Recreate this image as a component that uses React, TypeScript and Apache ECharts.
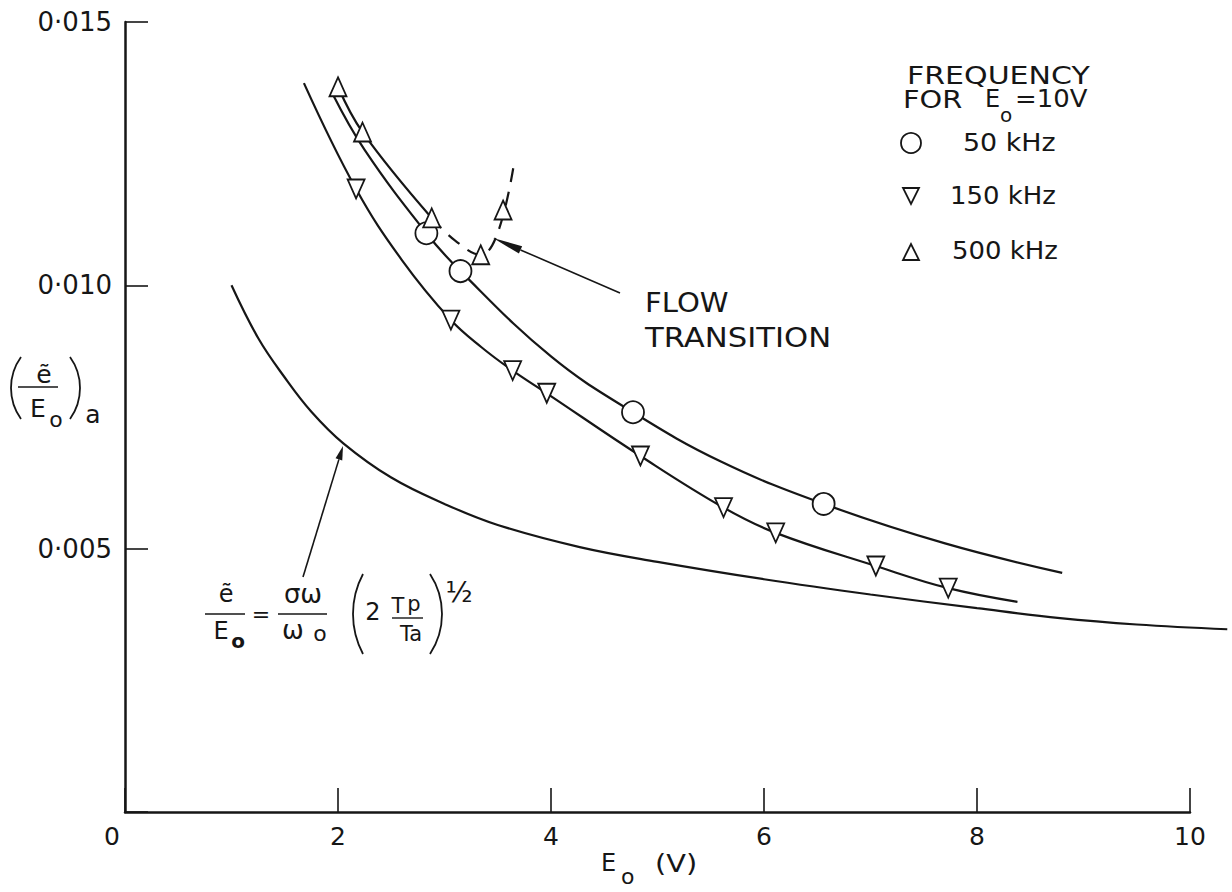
import React, { useEffect, useRef } from 'react';
import * as echarts from 'echarts';

// ---- data ----
const THEORY_CURVE: number[][] = [
  [1.0, 0.0100], [1.25, 0.0090], [1.5, 0.00825], [1.75, 0.0076], [2.05, 0.0070],
  [2.5, 0.00635], [3.0, 0.00585], [3.5, 0.00545], [4.27, 0.00503], [5.0, 0.00475],
  [6.0, 0.00442], [7.0, 0.00413], [8.0, 0.00387], [8.78, 0.00368], [9.5, 0.00356], [10.35, 0.00347],
];
const CURVE_50K: number[][] = [
  [1.94, 0.01367], [2.25, 0.01257], [2.83, 0.01099], [3.15, 0.01027], [4.0, 0.00865],
  [4.77, 0.00759], [5.6, 0.00665], [6.56, 0.00585], [7.7, 0.0051], [8.8, 0.00454],
];
const CURVE_150K: number[][] = [
  [1.68, 0.01384], [2.17, 0.01183], [2.6, 0.01048], [3.06, 0.00934], [3.35, 0.00882], [3.64, 0.00838], [3.96, 0.00795],
  [4.84, 0.00676], [5.62, 0.00578], [6.11, 0.0053], [7.05, 0.00467], [7.73, 0.00425], [8.38, 0.00399],
];
const CURVE_500K_SOLID: number[][] = [
  [2.0, 0.01377], [2.23, 0.01291], [2.88, 0.01128],
];
const CURVE_500K_DASHED: number[][] = [
  [2.88, 0.01128], [3.1, 0.01085], [3.34, 0.01058], [3.5, 0.0110], [3.65, 0.01228],
];
const POINTS_50K: number[][] = [
  [2.83, 0.01099], [3.15, 0.01027], [4.77, 0.00759], [6.56, 0.00585],
];
const POINTS_150K: number[][] = [
  [2.17, 0.01183], [3.06, 0.00934], [3.64, 0.00838], [3.96, 0.00795], [4.84, 0.00676],
  [5.62, 0.00578], [6.11, 0.0053], [7.05, 0.00467], [7.73, 0.00425],
];
const POINTS_500K: number[][] = [
  [2.0, 0.01377], [2.23, 0.01291], [2.88, 0.01128], [3.34, 0.01058], [3.55, 0.01143],
];
const LEGEND_LABELS = ['50 kHz', '150 kHz', '500 kHz'];

const FONT = "'DejaVu Sans', 'Noto Sans', sans-serif";
const INK = '#161616';

// layout: the theory curve runs past the end of the x axis, so it is drawn in a second,
// hidden grid with the same scale (106.5 px per volt) that extends to the page edge
const GRID_LEFT = 125, GRID_RIGHT = 42, GRID_TOP = 22, GRID_BOTTOM = 80, PAGE_W = 1232, EXT_RIGHT = 4;
const X_MAX = 10;
const X_MAX_EXT = X_MAX * (PAGE_W - EXT_RIGHT - GRID_LEFT) / (PAGE_W - GRID_RIGHT - GRID_LEFT);

function txt(text: string, x: number, y: number, size: number, align: string = 'left', extra: any = {}) {
  return {
    type: 'text', x, y, silent: true,
    style: { text, fill: INK, font: `${extra.weight || 'normal'} ${size}px ${FONT}`, align, verticalAlign: 'middle' },
    scaleX: extra.scaleX || 1,
  };
}
function seg(x1: number, y1: number, x2: number, y2: number, w = 1.6) {
  return { type: 'line', silent: true, shape: { x1, y1, x2, y2 }, style: { stroke: INK, lineWidth: w } };
}
// a thin bracket drawn as an arc: x0 = outermost x, y0 = centre y, h = height, s = sagitta
function paren(x0: number, y0: number, h: number, s: number, left: boolean) {
  const c = h / 2;
  const r = (c * c + s * s) / (2 * s);
  const a = Math.asin(c / r);
  const cx = left ? x0 + r : x0 - r;
  return {
    type: 'arc', silent: true,
    shape: { cx, cy: y0, r, startAngle: left ? Math.PI - a : -a, endAngle: left ? Math.PI + a : a, clockwise: true },
    style: { stroke: INK, lineWidth: 1.8, fill: 'none' },
  };
}
function arrow(x1: number, y1: number, x2: number, y2: number, len: number, half: number) {
  const dx = x2 - x1, dy = y2 - y1;
  const d = Math.sqrt(dx * dx + dy * dy);
  const ux = dx / d, uy = dy / d;
  const bx = x2 - ux * len, by = y2 - uy * len;
  const px = -uy * half, py = ux * half;
  return [
    seg(x1, y1, bx, by, 1.6),
    { type: 'polygon', silent: true, shape: { points: [[x2, y2], [bx + px, by + py], [bx - px, by - py]] }, style: { fill: INK } },
  ];
}

export default function App() {
  const ref = useRef<HTMLDivElement>(null);
  useEffect(() => {
    if (!ref.current) return;
    const chart = echarts.init(ref.current, null, { renderer: 'svg' });
    const lineBase = {
      type: 'line', smooth: 0.4, showSymbol: false, symbol: 'none', silent: true,
      lineStyle: { color: INK, width: 2.2 }, z: 2,
    };
    const markerStyle = { color: '#ffffff', borderColor: INK, borderWidth: 1.8, opacity: 1 };
    const graphics: any[] = [
      // y-axis title ( e~ / Eo )a
      paren(11, 388, 62, 10, true),
      txt('ẽ', 44, 374, 25, 'center'),
      seg(18, 387, 58, 387, 1.6),
      txt('E', 38, 408, 25, 'center'),
      txt('o', 56, 419, 22, 'center'),
      paren(80, 388, 62, 10, false),
      txt('a', 93, 414, 25, 'center'),
      // x-axis title
      txt('E', 601, 863, 24),
      txt('o', 621, 876, 22),
      txt('(V)', 655, 863, 24, 'left', { scaleX: 1.2 }),
      // legend
      txt('FREQUENCY', 907, 76, 24, 'left', { scaleX: 1.25 }),
      txt('FOR', 903, 99, 24, 'left', { scaleX: 1.2 }),
      txt('E', 985, 99, 24),
      txt('o', 1000, 115, 20),
      txt('=10V', 1015, 99, 24, 'left', { scaleX: 1.08 }),
      { type: 'circle', silent: true, shape: { cx: 911, cy: 143, r: 10 }, style: { fill: 'none', stroke: INK, lineWidth: 1.8 } },
      txt(LEGEND_LABELS[0], 963, 143, 24, 'left', { scaleX: 1.12 }),
      { type: 'polygon', silent: true, shape: { points: [[903, 188], [919, 188], [911, 204]] }, style: { fill: 'none', stroke: INK, lineWidth: 1.8 } },
      txt(LEGEND_LABELS[1], 950, 196, 24, 'left', { scaleX: 1.08 }),
      { type: 'polygon', silent: true, shape: { points: [[903, 260], [919, 260], [911, 244]] }, style: { fill: 'none', stroke: INK, lineWidth: 1.8 } },
      txt(LEGEND_LABELS[2], 952, 251, 24, 'left', { scaleX: 1.08 }),
      // flow transition annotation
      txt('FLOW', 645, 303, 26, 'left', { scaleX: 1.12 }),
      txt('TRANSITION', 645, 338, 26, 'left', { scaleX: 1.18 }),
      ...arrow(620, 293, 493, 238, 30, 4),
      // formula
      txt('ẽ', 226, 594, 24, 'center'),
      seg(205, 614, 245, 614, 1.6),
      txt('E', 221, 631, 24, 'center'),
      txt('o', 238, 641, 20, 'center', { weight: 'bold' }),
      txt('=', 261, 614, 22, 'center'),
      txt('σω', 303, 594, 26, 'center'),
      seg(278, 614, 327, 614, 1.6),
      txt('ω', 293, 630, 26, 'center'),
      txt('o', 320, 633, 22, 'center'),
      paren(353, 614, 80, 10, true),
      txt('2', 373, 612, 24, 'center'),
      txt('T', 398, 606, 21, 'center'),
      txt('p', 414, 604, 21, 'center'),
      seg(392, 618, 423, 618, 1.4),
      txt('Ta', 411, 634, 21, 'center'),
      paren(442, 614, 80, 12, false),
      txt('½', 459, 592, 28, 'center'),
      ...arrow(303, 577, 343, 446, 14, 3.5),
    ];
    chart.setOption({
      animation: false,
      backgroundColor: '#ffffff',
      grid: [
        { left: GRID_LEFT, right: GRID_RIGHT, top: GRID_TOP, bottom: GRID_BOTTOM },
        { left: GRID_LEFT, right: EXT_RIGHT, top: GRID_TOP, bottom: GRID_BOTTOM },
      ],
      xAxis: [
        {
          type: 'value', min: 0, max: X_MAX, interval: 2, gridIndex: 0,
          axisLine: { show: true, onZero: false, lineStyle: { color: INK, width: 2.5 } },
          axisTick: { show: true, inside: true, length: 24, lineStyle: { color: INK, width: 1.6 } },
          splitLine: { show: false },
          axisLabel: {
            margin: 12, color: INK, fontSize: 25, fontFamily: FONT,
            formatter: (v: number) => (v === 0 ? '{z|0}' : String(v)),
            rich: { z: { fontSize: 25, fontFamily: FONT, color: INK, padding: [0, 26, 0, 0] } },
          },
        },
        { type: 'value', min: 0, max: X_MAX_EXT, gridIndex: 1, show: false, splitLine: { show: false } },
      ],
      yAxis: [
        {
          type: 'value', min: 0, max: 0.015, interval: 0.005, gridIndex: 0,
          axisLine: { show: true, onZero: false, lineStyle: { color: INK, width: 2.5 } },
          axisTick: { show: true, inside: true, length: 23, lineStyle: { color: INK, width: 1.6 } },
          splitLine: { show: false },
          axisLabel: {
            margin: 13, color: INK, fontSize: 26, fontFamily: FONT,
            formatter: (v: number) => (v === 0 ? '' : v.toFixed(3).replace('.', '·')),
          },
        },
        { type: 'value', min: 0, max: 0.015, gridIndex: 1, show: false, splitLine: { show: false } },
      ],
      series: [
        { ...lineBase, name: 'theory', data: THEORY_CURVE, xAxisIndex: 1, yAxisIndex: 1 },
        { ...lineBase, name: '50 kHz curve', data: CURVE_50K },
        { ...lineBase, name: '150 kHz curve', data: CURVE_150K },
        { ...lineBase, name: '500 kHz curve', data: CURVE_500K_SOLID },
        { ...lineBase, name: '500 kHz transition', data: CURVE_500K_DASHED, lineStyle: { color: INK, width: 2.2, type: [14, 10] } },
        { type: 'scatter', name: '50 kHz', data: POINTS_50K, symbol: 'circle', symbolSize: 22, itemStyle: markerStyle, z: 5, silent: true },
        { type: 'scatter', name: '150 kHz', data: POINTS_150K, symbol: 'triangle', symbolRotate: 180, symbolSize: [17, 19], itemStyle: markerStyle, z: 5, silent: true },
        { type: 'scatter', name: '500 kHz', data: POINTS_500K, symbol: 'triangle', symbolSize: [17, 19], itemStyle: markerStyle, z: 5, silent: true },
      ],
      graphic: graphics,
    });
    return () => chart.dispose();
  }, []);
  return <div ref={ref} style={{ position: 'absolute', left: 0, top: 0, width: 1232, height: 892, background: '#fff' }} />;
}
